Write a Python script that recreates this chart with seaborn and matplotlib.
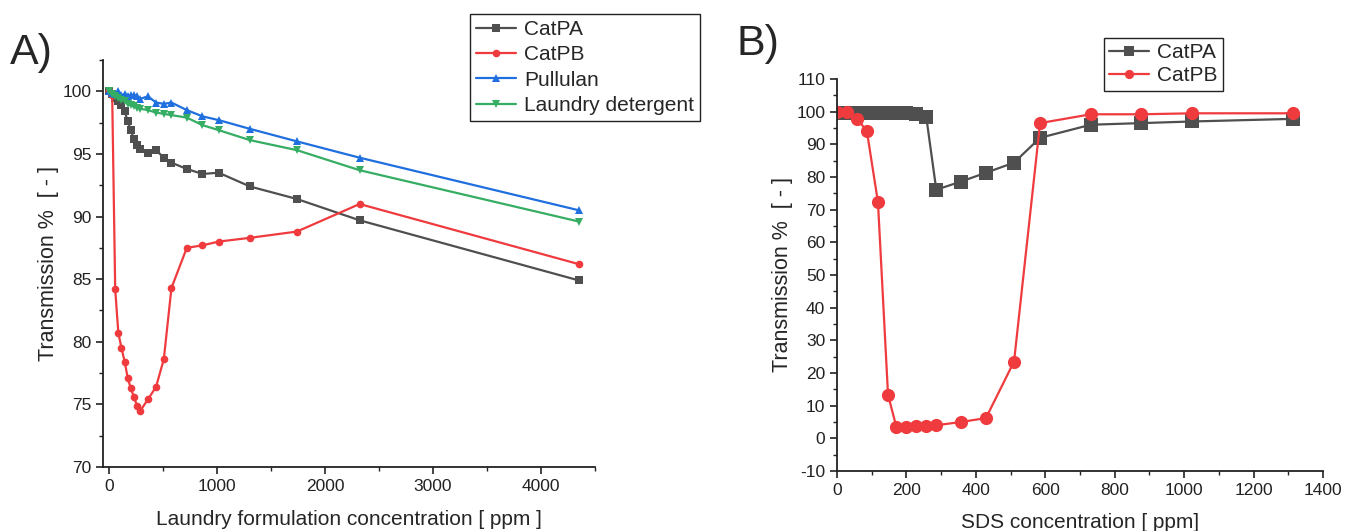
import matplotlib
matplotlib.use("Agg")
import matplotlib.pyplot as plt
from matplotlib.ticker import MultipleLocator
import pandas as pd
import seaborn as sns

# Panel A: laundry formulation concentration [ppm]
conc_a = [0, 29, 57, 86, 115, 145, 173, 201, 230, 259, 290, 360, 435, 507,
          578, 720, 865, 1015, 1305, 1740, 2320, 4350]
catpa_a = [100, 99.8, 99.5, 99.2, 98.9, 98.4, 97.6, 96.9, 96.2, 95.7, 95.4,
           95.1, 95.3, 94.7, 94.3, 93.8, 93.4, 93.5, 92.4, 91.4, 89.7, 84.9]
catpb_a = [100, 99.7, 84.2, 80.7, 79.5, 78.4, 77.1, 76.3, 75.6, 74.9, 74.5,
           75.4, 76.4, 78.6, 84.3, 87.5, 87.7, 88.0, 88.3, 88.8, 91.0, 86.2]
pullulan_a = [100, 99.9, 99.8, 100.0, 99.7, 99.8, 99.6, 99.7, 99.7, 99.6, 99.4,
              99.6, 99.1, 99.0, 99.1, 98.5, 98.0, 97.7, 97.0, 96.0, 94.7, 90.5]
detergent_a = [100, 99.8, 99.6, 99.5, 99.3, 99.2, 99.0, 98.9, 98.8, 98.7, 98.6,
               98.5, 98.3, 98.2, 98.1, 97.9, 97.3, 96.9, 96.1, 95.3, 93.7, 89.6]

# Panel B: SDS concentration [ppm]
conc_b = [0, 29, 57, 86, 118, 147, 171, 200, 229, 257, 286, 357, 429, 510,
          585, 731, 877, 1024, 1315]
catpa_b = [99.5, 99.5, 99.5, 99.5, 99.5, 99.5, 99.5, 99.5, 99.4, 98.5, 76.1,
           78.6, 81.3, 84.4, 92.0, 96.0, 96.5, 97.0, 97.8]
catpb_b = [100, 100, 97.9, 94.1, 72.3, 13.3, 3.5, 3.6, 3.7, 3.9, 4.0, 5.0,
           6.2, 23.5, 96.5, 99.2, 99.2, 99.5, 99.5]

colors = {
    "CatPA": "#4f4f4f",
    "CatPB": "#ef3b3e",
    "Pullulan": "#1f6fdf",
    "Laundry detergent": "#35ad63",
}
markers = {"CatPA": "s", "CatPB": "o", "Pullulan": "^", "Laundry detergent": "v"}

sns.set_style("ticks")
plt.rcParams["font.family"] = ["Liberation Sans", "DejaVu Sans"]
plt.rcParams["axes.unicode_minus"] = False

df_a = pd.DataFrame({"conc": conc_a, "CatPA": catpa_a, "CatPB": catpb_a,
                     "Pullulan": pullulan_a, "Laundry detergent": detergent_a})
df_a = df_a.melt(id_vars="conc", var_name="sample", value_name="T")
df_b = pd.DataFrame({"conc": conc_b, "CatPA": catpa_b, "CatPB": catpb_b})
df_b = df_b.melt(id_vars="conc", var_name="sample", value_name="T")

fig = plt.figure(figsize=(13.54, 5.31), dpi=100)
W, H = 1354, 531
ax1 = fig.add_axes([103 / W, 1 - 467 / H, (595 - 103) / W, (467 - 60) / H])
ax2 = fig.add_axes([837 / W, 1 - 471 / H, (1323 - 837) / W, (471 - 79) / H])

for name in ["CatPA", "CatPB", "Pullulan", "Laundry detergent"]:
    sub = df_a[df_a["sample"] == name]
    sns.lineplot(data=sub, x="conc", y="T", ax=ax1, color=colors[name],
                 marker=markers[name], markersize=5.5, markeredgewidth=0,
                 linewidth=1.6, label=name, sort=False)

for name in ["CatPA", "CatPB"]:
    sub = df_b[df_b["sample"] == name]
    sns.lineplot(data=sub, x="conc", y="T", ax=ax2, color=colors[name],
                 marker=markers[name], markersize=9.5, markeredgewidth=0,
                 linewidth=1.6, label=name, sort=False)

ax1.set_xlim(-56, 4500)
ax1.set_ylim(70, 102.5)
ax1.xaxis.set_major_locator(MultipleLocator(1000))
ax1.xaxis.set_minor_locator(MultipleLocator(500))
ax1.yaxis.set_major_locator(MultipleLocator(5))
ax1.yaxis.set_minor_locator(MultipleLocator(2.5))
ax1.set_xlabel("Laundry formulation concentration [ ppm ]", fontsize=15, labelpad=12)
ax1.set_ylabel("Transmission %  [ - ]", fontsize=15.5, labelpad=2)

ax2.set_xlim(0, 1400)
ax2.set_ylim(-10, 110)
ax2.xaxis.set_major_locator(MultipleLocator(200))
ax2.xaxis.set_minor_locator(MultipleLocator(100))
ax2.yaxis.set_major_locator(MultipleLocator(10))
ax2.yaxis.set_minor_locator(MultipleLocator(5))
ax2.set_xlabel("SDS concentration [ ppm]", fontsize=15, labelpad=11)
ax2.set_ylabel("Transmission %  [ - ]", fontsize=15.5, labelpad=2.5)

for ax in (ax1, ax2):
    sns.despine(ax=ax)
    for s in ("left", "bottom"):
        ax.spines[s].set_linewidth(1.3)
        ax.spines[s].set_color("#222222")
    ax.tick_params(axis="both", which="major", direction="out", length=5,
                   width=1.2, labelsize=12.5, colors="#222222")
    ax.tick_params(axis="both", which="minor", direction="out", length=3,
                   width=1.0, colors="#222222")

leg1 = ax1.legend(loc="upper left", bbox_to_anchor=(470 / W, 1 - 14 / H),
                  bbox_transform=fig.transFigure, fontsize=15, frameon=True,
                  fancybox=False, framealpha=1, edgecolor="#222222",
                  borderaxespad=0, handlelength=1.9, borderpad=0.3,
                  labelspacing=0.3, handletextpad=0.4)
leg1.get_frame().set_linewidth(1.0)
leg2 = ax2.legend(loc="upper left", bbox_to_anchor=(1104 / W, 1 - 38 / H),
                  bbox_transform=fig.transFigure, fontsize=15, frameon=True,
                  fancybox=False, framealpha=1, edgecolor="#222222",
                  borderaxespad=0, handlelength=1.9, borderpad=0.25,
                  labelspacing=0.2, handletextpad=0.4, markerscale=0.7)
leg2.get_frame().set_linewidth(1.0)

fig.text(10 / W, 1 - 53 / H, "A)", fontsize=31, va="center", ha="left")
fig.text(737 / W, 1 - 44 / H, "B)", fontsize=31, va="center", ha="left")

fig.savefig("out.png", dpi=100)
